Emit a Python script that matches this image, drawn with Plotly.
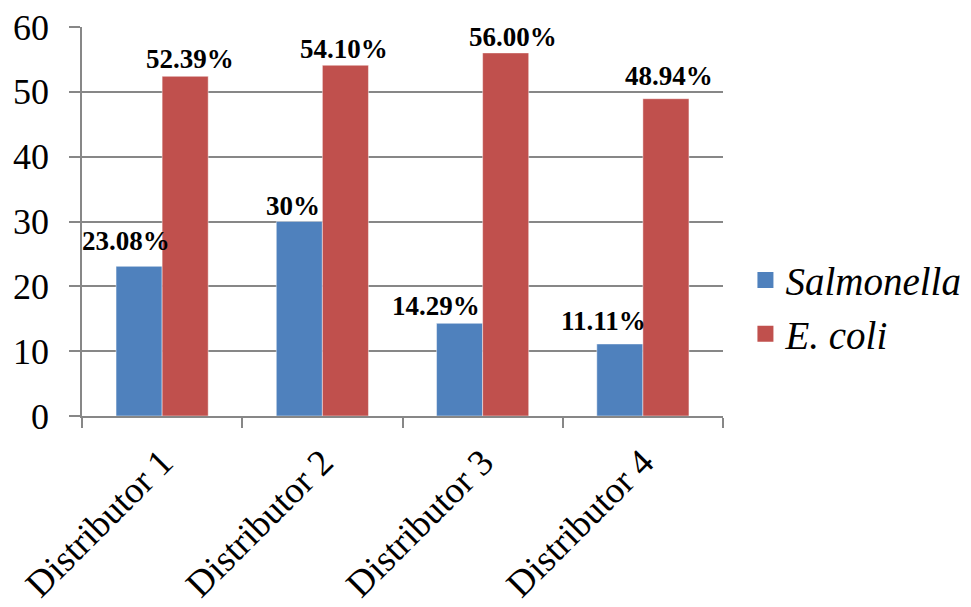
import plotly.graph_objects as go

categories = ["Distributor 1", "Distributor 2", "Distributor 3", "Distributor 4"]
salmonella = [23.08, 30.0, 14.29, 11.11]
ecoli = [52.39, 54.10, 56.00, 48.94]
salmonella_labels = ["23.08%", "30%", "14.29%", "11.11%"]
ecoli_labels = ["52.39%", "54.10%", "56.00%", "48.94%"]
series_names = ["<i>Salmonella</i>", "<i>E. coli</i>"]

# label placement styles (pixel offsets from category centre / bar top)
sal_dx = [-36, -29, -47, -39]
sal_dy = [25, 16, 17, 23]
eco_dx = [28, 22, 30, 26]
eco_dy = [17, 16, 16, 23]

BLUE = "#4F81BD"
RED = "#C0504D"
GRID = "#878787"
SERIF = "Times New Roman, Liberation Serif, DejaVu Serif, serif"

fig = go.Figure()
fig.add_trace(go.Bar(x=categories, y=salmonella, name=series_names[0], showlegend=False,
                     marker=dict(color=BLUE, line=dict(color="rgba(255,255,255,0.45)", width=1))))
fig.add_trace(go.Bar(x=categories, y=ecoli, name=series_names[1], showlegend=False,
                     marker=dict(color=RED, line=dict(color="rgba(255,255,255,0.45)", width=1))))
# legend entries (larger square keys)
for nm, col in zip(series_names, [BLUE, RED]):
    fig.add_trace(go.Scatter(x=[None], y=[None], mode="markers", name=nm,
                             marker=dict(symbol="square", size=16, color=col)))

annotations = []
for cat, v, t, dx, dy in zip(categories, salmonella, salmonella_labels, sal_dx, sal_dy):
    annotations.append(dict(x=cat, y=v, text=f"<b>{t}</b>", showarrow=False, xref="x", yref="y",
                            xshift=dx, yshift=dy, xanchor="center", yanchor="middle",
                            font=dict(family=SERIF, size=27, color="black")))
for cat, v, t, dx, dy in zip(categories, ecoli, ecoli_labels, eco_dx, eco_dy):
    annotations.append(dict(x=cat, y=v, text=f"<b>{t}</b>", showarrow=False, xref="x", yref="y",
                            xshift=dx, yshift=dy, xanchor="center", yanchor="middle",
                            font=dict(family=SERIF, size=27, color="black")))

fig.update_layout(
    width=971, height=607,
    margin=dict(l=82, r=248, t=27, b=191, autoexpand=False),
    paper_bgcolor="white", plot_bgcolor="white",
    barmode="group", bargap=0.425, bargroupgap=0,
    font=dict(family=SERIF, color="black"),
    annotations=annotations,
    legend=dict(x=1.035, y=0.28, xanchor="left", yanchor="middle",
                font=dict(family=SERIF, size=39, color="black"),
                itemsizing="trace", itemwidth=30, tracegroupgap=0, bgcolor="rgba(0,0,0,0)"),
    showlegend=True,
)
fig.update_yaxes(range=[0, 60], dtick=10, showgrid=True, gridcolor=GRID, gridwidth=1.5,
                 showline=True, linecolor=GRID, linewidth=1.5,
                 ticks="outside", ticklen=11, tickcolor=GRID, tickwidth=1.5,
                 tickfont=dict(family=SERIF, size=36, color="black"),
                 ticklabelstandoff=13, zeroline=False, automargin=False)
fig.update_xaxes(range=[-0.5, 3.5], showline=True, linecolor=GRID, linewidth=1.5,
                 ticks="outside", ticklen=10, tickcolor=GRID, tickwidth=1.5,
                 tickson="boundaries", tickangle=-45, ticklabelstandoff=8,
                 tickfont=dict(family=SERIF, size=37, color="black"), automargin=False)

fig.write_html("out.html")
